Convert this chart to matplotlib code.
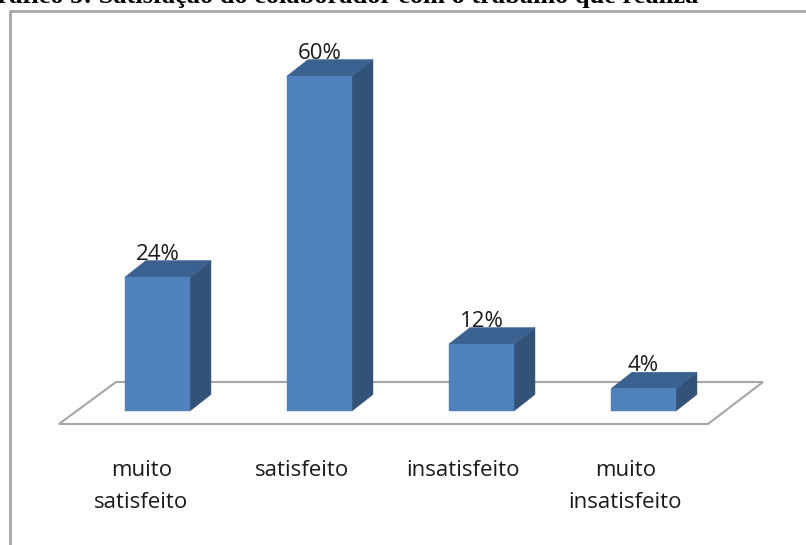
import matplotlib
matplotlib.use("Agg")
import matplotlib.pyplot as plt
from matplotlib.patches import Polygon

categories = [["muito", "satisfeito"], ["satisfeito"], ["insatisfeito"], ["muito", "insatisfeito"]]
values = [24, 60, 12, 4]
labels = ["24%", "60%", "12%", "4%"]
title = "Gráfico 5: Satisfação do colaborador com o trabalho que realiza"

W, H = 806, 545
X0, XS = 157.5, 162.0   # px of category 0, px per category
Y0, YS = 411.0, 5.583   # px of value 0, px per percent

fig = plt.figure(figsize=(W / 100, H / 100), dpi=100, facecolor="white")
ax = fig.add_axes([0, 0, 1, 1])
ax.set_xlim((0 - X0) / XS, (W - X0) / XS)
ax.set_ylim((Y0 - H) / YS, Y0 / YS)
ax.axis("off")

def px(x, y):
    return ((x - X0) / XS, (Y0 - y) / YS)

# floor
ax.add_patch(Polygon([px(59, 424), px(708, 424), px(763, 382), px(116, 382)],
                     closed=True, fc="white", ec="#a6a6a6", lw=1.5, zorder=1))

bw = 65 / XS
dx = 21 / XS
dy = 16.5 / YS
front, side, top = "#4f81bd", "#325277", "#3a618f"
xs = list(range(len(values)))
ax.bar(xs, values, width=bw, color=front, edgecolor=front, linewidth=0.3, zorder=3)
for i, v in zip(xs, values):
    r = i + bw / 2
    l = i - bw / 2
    ax.add_patch(Polygon([(r, 0), (r + dx, dy), (r + dx, v + dy), (r, v)], fc=side, ec=side, lw=0.3, zorder=2))
    ax.add_patch(Polygon([(l, v), (r, v), (r + dx, v + dy), (l + dx, v + dy)], fc=top, ec=top, lw=0.3, zorder=2))

font = "Open Sans"
fs = 16
ink = "#1a1a1a"
for i, v, s in zip(xs, values, labels):
    ax.text(i, v + 17.5 / YS, s, ha="center", va="baseline",
            fontsize=fs, family=font, color=ink, zorder=5)

lab_x = [142, 302, 463, 626]
line_y = [476, 508]
for lx, lines in zip(lab_x, categories):
    for k, line in enumerate(lines):
        x, y = px(lx - k, line_y[k])
        ax.text(x, y, line, ha="center", va="baseline", fontsize=fs, family=font, color=ink)

# picture frame of the source document
fig.add_artist(plt.Line2D([10 / W, 10 / W, 1], [0, 1 - 11 / H, 1 - 11 / H],
                          color="#a6a6a6", lw=2, transform=fig.transFigure))

fig.text(698 / W, 1 - 3.5 / H, title, ha="right", va="baseline", fontsize=19,
         family="Liberation Serif", weight="bold", color="black")

fig.savefig("out.png", dpi=100, facecolor="white")
